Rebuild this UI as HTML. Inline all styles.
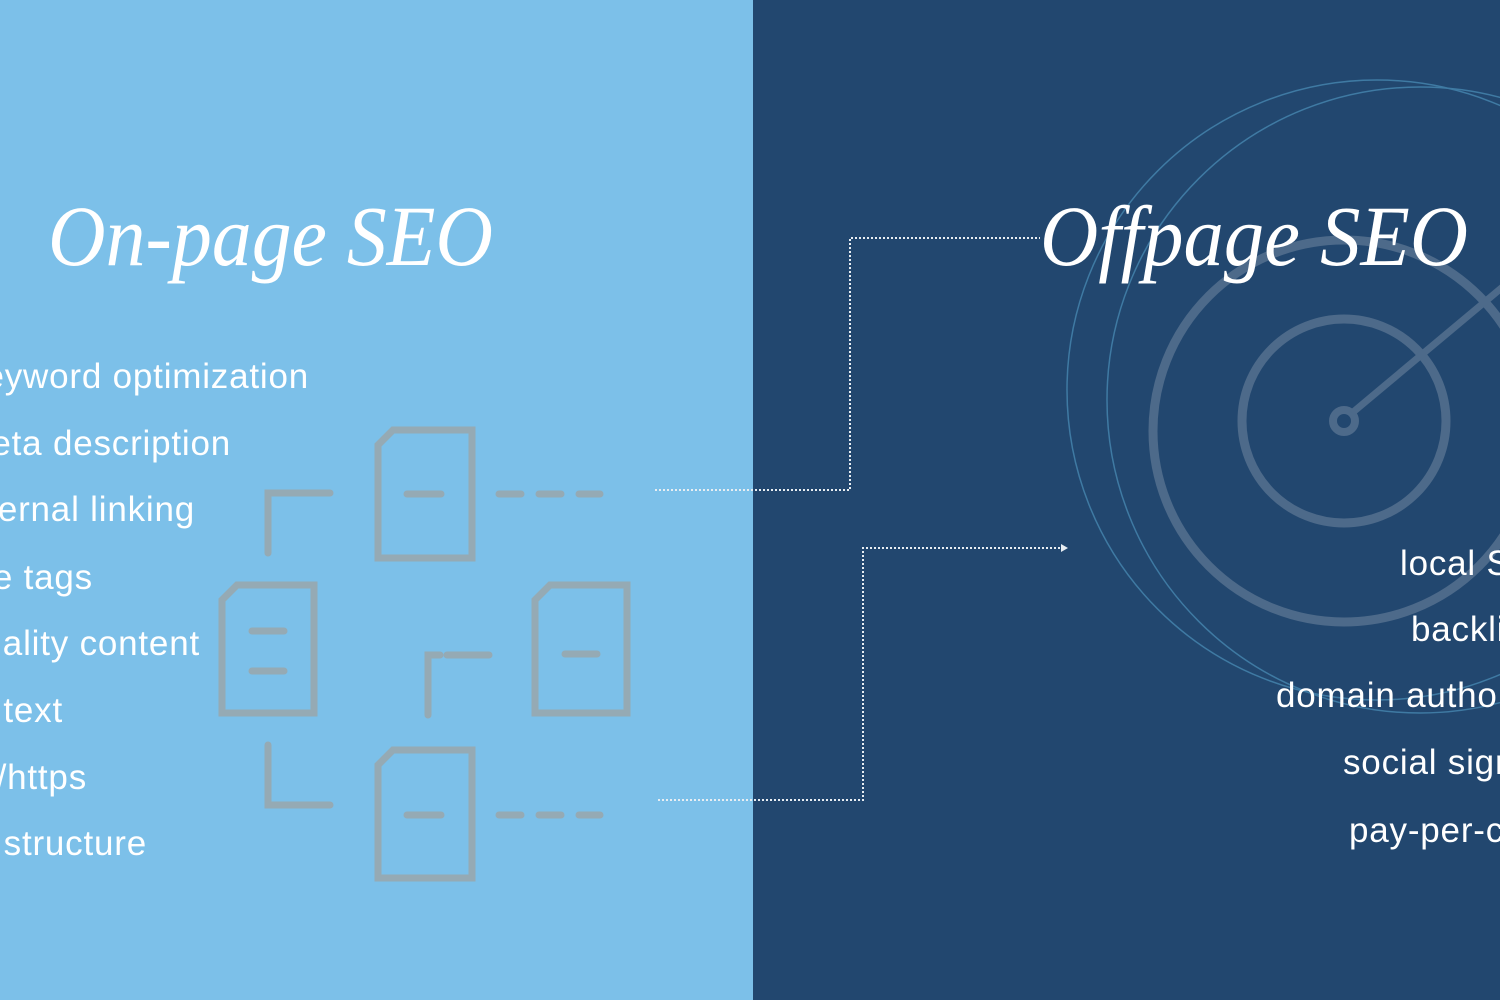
<!DOCTYPE html>
<html><head><meta charset="utf-8"><style>
html,body{margin:0;padding:0;width:1500px;height:1000px;overflow:hidden}
svg{display:block}
.li{font-family:"Liberation Sans",sans-serif;font-size:35px;letter-spacing:0.8px;fill:#fff}
.t{font-family:"Liberation Serif",serif;font-style:italic;font-size:86px;fill:#fff}
</style></head><body>
<svg width="1500" height="1000" viewBox="0 0 1500 1000" xmlns="http://www.w3.org/2000/svg">
<rect x="0" y="0" width="753" height="1000" fill="#7cc0e9"/>
<rect x="753" y="0" width="747" height="1000" fill="#22476f"/>
<g fill="none">
<circle cx="1377" cy="390" r="310" stroke="#3f7aa3" stroke-width="1.5"/>
<circle cx="1420" cy="400" r="313" stroke="#3f7aa3" stroke-width="1.5"/>
<circle cx="1344" cy="431" r="191" stroke="#4d6a8a" stroke-width="9"/>
<circle cx="1344" cy="421" r="102" stroke="#4d6a8a" stroke-width="9"/>
<circle cx="1344" cy="421" r="11" stroke="#4d6a8a" stroke-width="8"/>
<line x1="1352" y1="413" x2="1505" y2="285" stroke="#4d6a8a" stroke-width="7"/>
</g>
<g fill="none" stroke="#95aab4" stroke-width="7" stroke-linecap="round">
<path d="M378,445 L393,430 L472,430 L472,558 L378,558 Z"/>
<line x1="407" y1="494" x2="441" y2="494"/>
<line x1="499" y1="494" x2="521" y2="494"/><line x1="539" y1="494" x2="561" y2="494"/><line x1="579" y1="494" x2="600" y2="494"/>
<path d="M268,553 L268,493 L330,493"/>
<path d="M222,600 L237,585 L314,585 L314,713 L222,713 Z"/>
<line x1="252" y1="631" x2="284" y2="631"/><line x1="252" y1="671" x2="284" y2="671"/>
<path d="M535,600 L550,585 L627,585 L627,713 L535,713 Z"/>
<line x1="565" y1="654" x2="597" y2="654"/>
<path d="M428,715 L428,655 L440,655 M447,655 L489,655"/>
<path d="M268,745 L268,805 L330,805"/>
<path d="M378,765 L393,750 L472,750 L472,878 L378,878 Z"/>
<line x1="407" y1="815" x2="441" y2="815"/>
<line x1="499" y1="815" x2="521" y2="815"/><line x1="539" y1="815" x2="561" y2="815"/><line x1="579" y1="815" x2="600" y2="815"/>
</g>
<g fill="none" stroke="#e8eef3" stroke-width="2" stroke-dasharray="2,2">
<path d="M655,490 L850,490 L850,238 L1040,238"/>
<path d="M658,800 L863,800 L863,548 L1062,548"/>
</g>
<polygon points="1061,544 1068,548 1061,552" fill="#e8eef3"/>
<text class="t" x="48" y="265" textLength="445" lengthAdjust="spacingAndGlyphs">On-page SEO</text>
<text class="t" x="1040" y="265" textLength="428" lengthAdjust="spacingAndGlyphs">Offpage SEO</text>
<g class="li" text-anchor="end">
<text x="309" y="388">keyword optimization</text>
<text x="231" y="455">meta description</text>
<text x="195" y="521">internal linking</text>
<text x="93" y="589">title tags</text>
<text x="200" y="655">quality content</text>
<text x="63" y="722">alt text</text>
<text x="87" y="789">SSL/https</text>
<text x="147" y="855">URL structure</text>
</g>
<g class="li">
<text x="1400" y="575">local SEO</text>
<text x="1411" y="641">backlinks</text>
<text x="1276" y="707">domain authority</text>
<text x="1343" y="774">social signals</text>
<text x="1349" y="842">pay-per-click</text>
</g>
</svg>
</body></html>
